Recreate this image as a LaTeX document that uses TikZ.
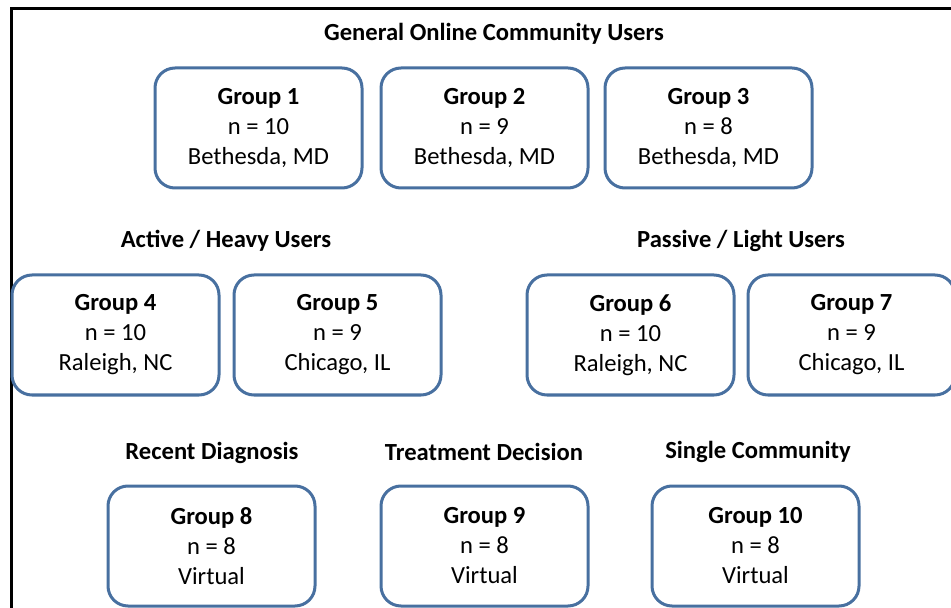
\documentclass[tikz,border=0pt]{standalone}
\usepackage{fontspec}
\setmainfont{Carlito}
\definecolor{boxblue}{RGB}{72,112,160}
\tikzset{
  groupbox/.style={draw=boxblue, line width=1.5pt, rounded corners=10pt,
    minimum width=103.5pt, minimum height=60pt, align=center,
    font=\fontsize{12.3}{15}\selectfont},
  heading/.style={font=\fontsize{12.3}{15}\selectfont\bfseries}
}
\newcommand{\groupbox}[5]{
  \node[groupbox] (#1) at #2 {\textbf{#3}\\ n = #4\\ #5};
}

\begin{document}
\begin{tikzpicture}[x=0.5pt,y=-0.5pt]
  \useasboundingbox (0,0) rectangle (951,608);
  \clip (0,0) rectangle (951,608);
  \draw[line width=1.5pt] (11,640) -- (11,9) -- (980,9);
  % general users
  \node[heading] (general) at (494,34) {General Online Community Users};
  \groupbox{g1}{(258.5,128)}{Group 1}{10}{Bethesda, MD}
  \groupbox{g2}{(484.5,128)}{Group 2}{9}{Bethesda, MD}
  \groupbox{g3}{(708.5,128)}{Group 3}{8}{Bethesda, MD}
  % heavy and light users
  \node[heading] (heavy) at (226,241) {Active / Heavy Users};
  \node[heading] (light) at (741,241) {Passive / Light Users};
  \groupbox{g4}{(115.5,335)}{Group 4}{10}{Raleigh, NC}
  \groupbox{g5}{(337.5,335)}{Group 5}{9}{Chicago, IL}
  \groupbox{g6}{(630.5,335)}{Group 6}{10}{Raleigh, NC}
  \groupbox{g7}{(851.5,335)}{Group 7}{9}{Chicago, IL}
  % virtual groups
  \node[heading] (recent) at (212,453) {Recent Diagnosis};
  \node[heading] (treatment) at (484,452) {Treatment Decision};
  \node[heading] (single) at (758,452) {Single Community};
  \groupbox{g8}{(211.5,546)}{Group 8}{8}{Virtual}
  \groupbox{g9}{(484.5,546)}{Group 9}{8}{Virtual}
  \groupbox{g10}{(755.5,546)}{Group 10}{8}{Virtual}
\end{tikzpicture}
\end{document}
